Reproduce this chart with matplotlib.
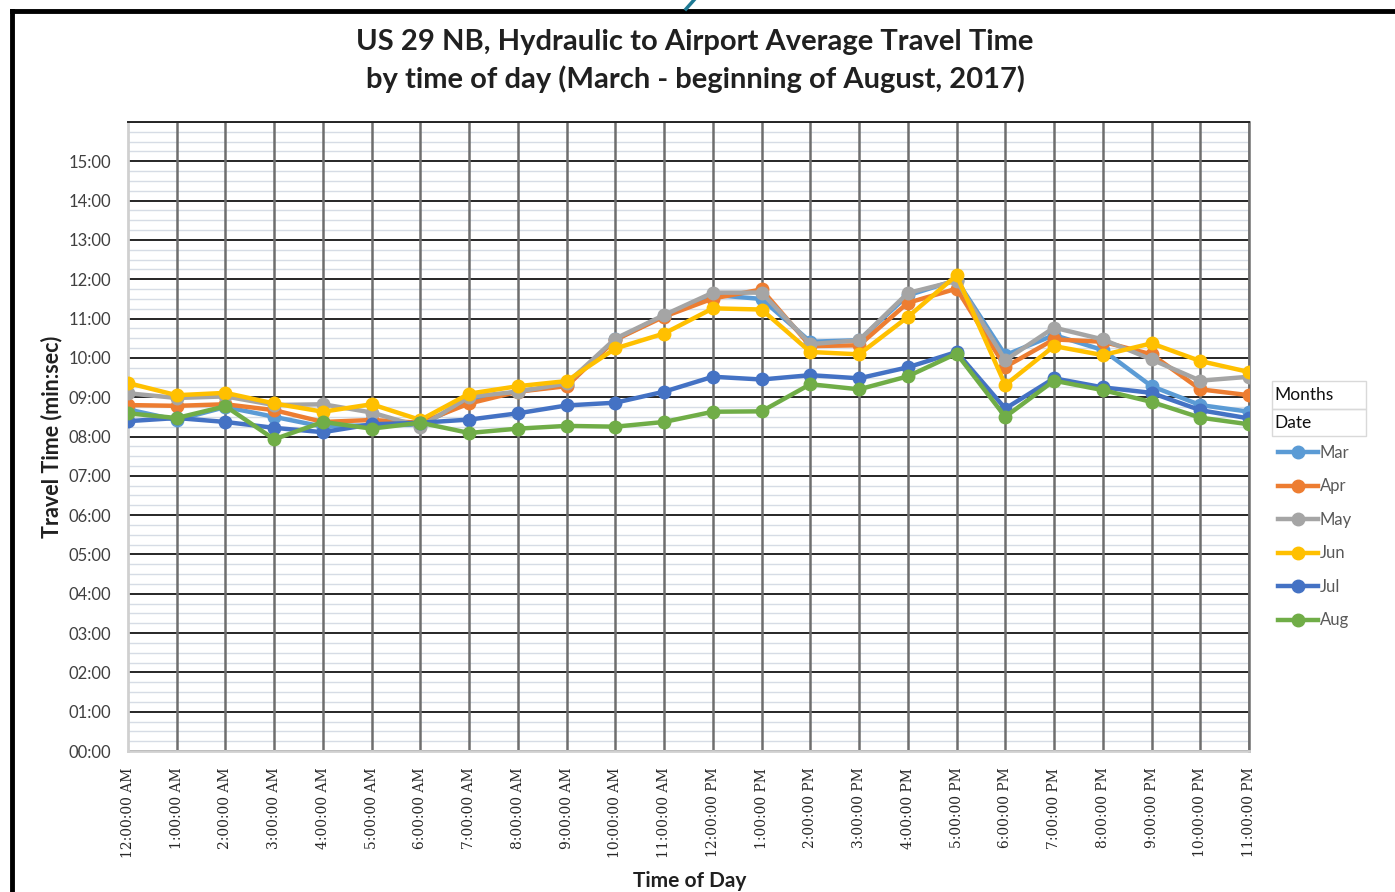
import numpy as np
import matplotlib.pyplot as plt
from matplotlib.lines import Line2D
from matplotlib.patches import Rectangle
from matplotlib.ticker import FuncFormatter, MultipleLocator

plt.rcParams['font.family'] = ['Lato', 'DejaVu Sans']

hours = ['12:00:00 AM'] + [f'{h}:00:00 AM' for h in range(1, 12)] + \
        ['12:00:00 PM'] + [f'{h}:00:00 PM' for h in range(1, 12)]

# average travel time in minutes
mar = [8.69, 8.42, 8.75, 8.50, 8.25, 8.29, 8.30, 8.90, 9.15, 9.30, 10.47, 11.07,
       11.60, 11.50, 10.41, 10.45, 11.59, 11.98, 10.07, 10.58, 10.20, 9.28, 8.80, 8.63]
apr = [8.80, 8.78, 8.82, 8.67, 8.37, 8.42, 8.35, 8.84, 9.14, 9.28, 10.46, 11.05,
       11.51, 11.74, 10.30, 10.32, 11.40, 11.76, 9.77, 10.47, 10.41, 10.09, 9.20, 9.05]
may = [9.10, 8.98, 9.02, 8.80, 8.82, 8.61, 8.25, 9.01, 9.14, 9.35, 10.49, 11.09,
       11.66, 11.66, 10.35, 10.45, 11.65, 11.96, 9.94, 10.77, 10.47, 9.96, 9.42, 9.52]
jun = [9.36, 9.05, 9.11, 8.84, 8.63, 8.82, 8.42, 9.09, 9.28, 9.41, 10.24, 10.62,
       11.26, 11.23, 10.15, 10.09, 11.04, 12.10, 9.31, 10.30, 10.07, 10.37, 9.92, 9.64]
jul = [8.39, 8.47, 8.37, 8.22, 8.11, 8.31, 8.35, 8.43, 8.59, 8.79, 8.86, 9.14,
       9.52, 9.45, 9.56, 9.48, 9.76, 10.15, 8.71, 9.48, 9.25, 9.11, 8.67, 8.46]
aug = [8.59, 8.47, 8.77, 7.93, 8.37, 8.20, 8.35, 8.09, 8.20, 8.27, 8.25, 8.37,
       8.63, 8.64, 9.33, 9.20, 9.53, 10.11, 8.50, 9.42, 9.18, 8.88, 8.48, 8.31]

months = ['Mar', 'Apr', 'May', 'Jun', 'Jul', 'Aug']
series = [mar, apr, may, jun, jul, aug]
colors = ['#5B9BD5', '#ED7D31', '#A5A5A5', '#FFC000', '#4472C4', '#70AD47']

fig = plt.figure(figsize=(13.95, 8.92), dpi=100)
ax = fig.add_axes([128/1395, 1-751/892, (1249-128)/1395, (751-122)/892])

x = np.arange(len(hours))
for name, vals, c in zip(months, series, colors):
    ax.plot(x, vals, color=c, lw=3.2, marker='o', ms=9, label=name, zorder=3)

ax.set_xlim(0, 23)
ax.set_ylim(0, 16)
ax.set_xticks(x)
ax.set_xticklabels(hours, rotation=90, family='DejaVu Serif', fontsize=10,
                   color='#262626', va='top', ha='center')
ax.set_yticks(range(17))
ax.yaxis.set_major_formatter(FuncFormatter(lambda v, p: '' if v >= 16 else f'{int(v):02d}:00'))
ax.yaxis.set_minor_locator(MultipleLocator(0.25))
ax.tick_params(axis='y', which='both', length=0, pad=12, labelsize=12, labelcolor='#404040')
ax.tick_params(axis='x', length=0, pad=12)

ax.set_axisbelow(True)
ax.grid(axis='y', which='minor', color='#D6DCE5', lw=1.0)
ax.grid(axis='y', which='major', color='#262626', lw=1.4, zorder=1.2)
# vertical hour lines above the light minor grid
ax.vlines(x[1:], 0, 16, color='#6E6E6E', lw=1.8, zorder=1)
for s in ['left', 'bottom']:
    ax.spines[s].set_color('#D0D0D0')
    ax.spines[s].set_linewidth(2)
ax.spines['right'].set_color('#6E6E6E')
ax.spines['right'].set_linewidth(1.8)
ax.spines['top'].set_color('#262626')
ax.spines['top'].set_linewidth(1.4)

ax.set_xlabel('Time of Day', fontsize=15, fontweight='bold', color='#202020')
ax.xaxis.set_label_coords((690-128)/(1249-128), -(871-751)/(751-122))
ax.set_ylabel('Travel Time (min:sec)', fontsize=15.5, fontweight='bold', color='#202020')
ax.yaxis.set_label_coords(-(128-62)/(1249-128), 0.5)

fig.text(695/1395, 1-61/892,
         'US 29 NB, Hydraulic to Airport Average Travel Time\nby time of day (March - beginning of August, 2017)',
         ha='center', va='center', fontsize=21, fontweight='bold', color='#202020', linespacing=1.5)

# field buttons
for i, lab in enumerate(['Months', 'Date']):
    y0 = 381 + i*27.5
    fig.patches.append(Rectangle((1272/1395, 1-(y0+27.5)/892), 94/1395, 27.5/892,
                                 transform=fig.transFigure, fill=False, ec='#D9D9D9', lw=1))
    fig.text(1274/1395, 1-(y0+14)/892, lab, fontsize=12.5, va='center', color='#101010')

leg = fig.legend(loc='upper left', bbox_to_anchor=(1278/1395, 1-445/892), frameon=False,
                 fontsize=12, handlelength=2.4, handletextpad=0.1, labelspacing=1.05,
                 borderpad=0, borderaxespad=0)
for t in leg.get_texts():
    t.set_color('#595959')

# outer frame
fig.add_artist(Line2D([12/1395, 1], [1-11/892, 1-11/892], color='black', lw=3.5))
fig.add_artist(Line2D([12/1395, 12/1395], [0, 1-11/892], color='black', lw=3.5))
fig.add_artist(Line2D([686/1395, 694/1395], [1-9/892, 1], color='#1F7A94', lw=2.5))

fig.savefig('out.png', dpi=100)
